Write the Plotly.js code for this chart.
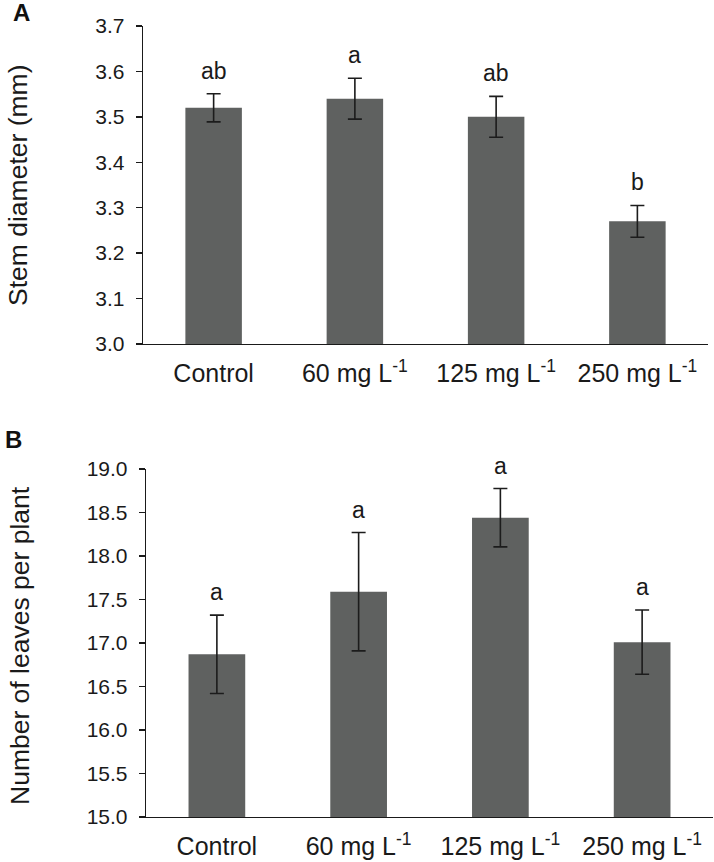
<!DOCTYPE html>
<html>
<head>
<meta charset="utf-8">
<script src="https://cdn.plot.ly/plotly-3.0.1.min.js"></script>
<style>
  html, body { margin: 0; padding: 0; background: #fff; }
  #chart { width: 714px; height: 862px; }
</style>
</head>
<body>
<div id="chart"></div>
<script>
// ---- Data ----
const categories = ["Control", "60 mg L<sup>-1</sup>", "125 mg L<sup>-1</sup>", "250 mg L<sup>-1</sup>"];

const stemDiameter = [3.52, 3.54, 3.50, 3.27];
const stemDiameterErr = [0.031, 0.045, 0.045, 0.035];
const stemLetters = ["ab", "a", "ab", "b"];
const stemTicks = [3.0, 3.1, 3.2, 3.3, 3.4, 3.5, 3.6, 3.7];

const leaves = [16.87, 17.59, 18.44, 17.01];
const leavesErr = [0.45, 0.68, 0.335, 0.37];
const leavesLetters = ["a", "a", "a", "a"];
const leavesTicks = [15.0, 15.5, 16.0, 16.5, 17.0, 17.5, 18.0, 18.5, 19.0];

// ---- Styles ----
const FONT = "Liberation Sans, Arial, Helvetica, sans-serif";
const barColor = "#5f6160";
const errColor = "#1c1c1c";

const W = 714, H = 862;

function barTrace(y, err, xa, ya) {
  return {
    type: "bar",
    x: categories,
    y: y,
    xaxis: xa,
    yaxis: ya,
    width: 0.4,
    marker: { color: barColor, line: { width: 0 } },
    error_y: { type: "data", array: err, visible: true, color: errColor, thickness: 1.6, width: 7 },
    hoverinfo: "skip",
    showlegend: false
  };
}

const data = [
  barTrace(stemDiameter, stemDiameterErr, "x", "y"),
  barTrace(leaves, leavesErr, "x2", "y2")
];

function yAxis(range, ticks, domain, anchor) {
  return {
    domain: domain,
    anchor: anchor,
    range: range,
    tickvals: ticks,
    ticktext: ticks.map(v => v.toFixed(1)),
    ticks: "outside",
    ticklen: 6,
    tickwidth: 1.3,
    tickcolor: "#1a1a1a",
    showline: true,
    linecolor: "#1a1a1a",
    linewidth: 1.3,
    showgrid: false,
    zeroline: false,
    tickfont: { family: FONT, size: 21, color: "#1a1a1a" },
    ticklabelstandoff: 7,
    fixedrange: true
  };
}

function xAxis(domain, anchor) {
  return {
    domain: domain,
    anchor: anchor,
    type: "category",
    showline: true,
    linecolor: "#1a1a1a",
    linewidth: 1.3,
    ticks: "",
    showgrid: false,
    zeroline: false,
    tickfont: { family: FONT, size: 25, color: "#1a1a1a" },
    ticklabelstandoff: 7,
    fixedrange: true
  };
}

const annotations = [];
stemLetters.forEach((t, i) => {
  annotations.push({
    xref: "x", yref: "y", x: categories[i], y: stemDiameter[i] + stemDiameterErr[i],
    text: t, showarrow: false, yanchor: "bottom", yshift: 8,
    font: { family: FONT, size: 23, color: "#1a1a1a" }
  });
});
leavesLetters.forEach((t, i) => {
  annotations.push({
    xref: "x2", yref: "y2", x: categories[i], y: leaves[i] + leavesErr[i],
    text: t, showarrow: false, yanchor: "bottom", yshift: 8,
    font: { family: FONT, size: 23, color: "#1a1a1a" }
  });
});
// panel letters
annotations.push({ xref: "paper", yref: "paper", x: 11 / W, y: 1 - (-3) / H, xanchor: "left", yanchor: "top",
  text: "<b>A</b>", showarrow: false, font: { family: FONT, size: 24, color: "#111" } });
annotations.push({ xref: "paper", yref: "paper", x: 3 / W, y: 1 - 424 / H, xanchor: "left", yanchor: "top",
  text: "<b>B</b>", showarrow: false, font: { family: FONT, size: 24, color: "#111" } });
// y-axis titles
annotations.push({ xref: "paper", yref: "paper", x: 18 / W, y: 1 - 186 / H, xanchor: "center", yanchor: "middle",
  text: "Stem diameter (mm)", textangle: -90, showarrow: false, font: { family: FONT, size: 26.5, color: "#1a1a1a" } });
annotations.push({ xref: "paper", yref: "paper", x: 20 / W, y: 1 - 646 / H, xanchor: "center", yanchor: "middle",
  text: "Number of leaves per plant", textangle: -90, showarrow: false, font: { family: FONT, size: 26.5, color: "#1a1a1a" } });

const layout = {
  width: W,
  height: H,
  margin: { l: 0, r: 0, t: 0, b: 0, pad: 0 },
  paper_bgcolor: "#ffffff",
  plot_bgcolor: "#ffffff",
  showlegend: false,
  font: { family: FONT, color: "#1a1a1a" },
  xaxis: xAxis([143 / W, 708 / W], "y"),
  yaxis: yAxis([3.0, 3.7], stemTicks, [1 - 344 / H, 1 - 26 / H], "x"),
  xaxis2: xAxis([146 / W, 713 / W], "y2"),
  yaxis2: yAxis([15.0, 19.0], leavesTicks, [1 - 817 / H, 1 - 469 / H], "x2"),
  annotations: annotations
};

Plotly.newPlot("chart", data, layout, { staticPlot: true, displayModeBar: false });
</script>
</body>
</html>
